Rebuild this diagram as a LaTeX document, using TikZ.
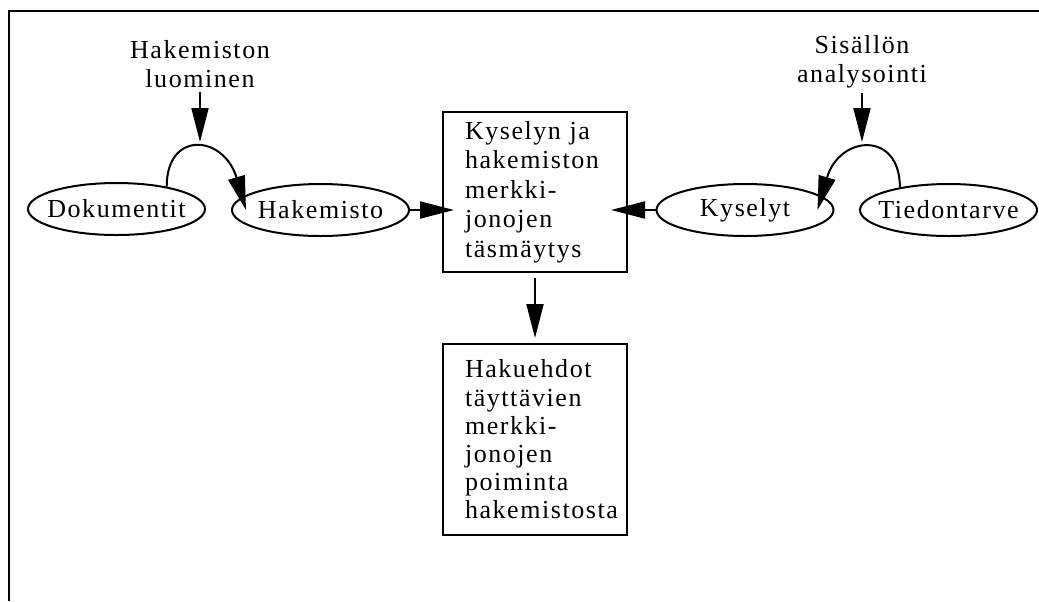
\documentclass[tikz,border=0pt]{standalone}
\usepackage{fontspec}
\setmainfont[LetterSpace=6]{Liberation Serif}
\usetikzlibrary{arrows.meta,shapes,calc,positioning}
\tikzset{
	pil/.style={-{Triangle[length=17pt,width=8.5pt]},line width=1pt},
	soikio/.style={ellipse,draw,line width=1pt,minimum width=88.5pt,minimum height=26pt,inner sep=0pt,label={center:#1}},
	laatikko/.style={draw,line width=1pt,minimum width=92pt,text width=70pt,inner xsep=11pt,align=left,
		execute at begin node={\hyphenpenalty=10000\relax}},
	otsikko/.style={align=center,inner sep=2pt},
}
\begin{document}
\begin{tikzpicture}[x=0.5pt,y=-0.5pt,font=\fontsize{13pt}{14.7pt}\selectfont]
	\useasboundingbox (0,0) rectangle (1039,601);
	\draw [line width=1.1pt] (1039,11) -- (9,11) -- (9,601);
	\node [soikio=Dokumentit] (dok) at (116.5,209){};
	\node [soikio=Hakemisto] (hak) at (320.5,210){};
	\node [laatikko,minimum height=80pt] (vert) at (535,192){Kyselyn ja\\hakemiston\\merkki-\\jonojen\\täsmäytys};
	\node [laatikko,minimum height=95.5pt,below=35pt of vert,font=\fontsize{13pt}{14.1pt}\selectfont] (poim){Hakuehdot\\täyttävien\\merkki-\\jonojen\\poiminta\\hakemistosta};
	\node [soikio=Kyselyt] (kys) at (745,210){};
	\node [soikio=Tiedontarve] (tied) at (948.5,210){};
	\node [otsikko] (luo) at (200,64){Hakemiston\\luominen};
	\node [otsikko] (sis) at (862,62){Sisällön\\analysointi};
	\coordinate (luoKarki) at (200,142);
	\coordinate (sisKarki) at (862,142);
	\draw [pil] (luo.south) -- (luoKarki);
	\draw [pil] (sis.south) -- (sisKarki);
	\draw [pil] (dok.24) .. controls +(0,-57) and +(-22,-75) .. ($(hak.west)+(15,0)$);
	\draw [pil] (tied.155) .. controls +(0,-57) and +(22,-75) .. ($(kys.east)+(-17,0)$);
	\draw [pil,shorten >=-6pt] (hak.east) -- (hak.east -| vert.west);
	\draw [pil,shorten >=-8.5pt] (kys.west) -- (kys.west -| vert.east);
	\draw [pil,shorten <=2.5pt,shorten >=2.5pt] (vert) -- (poim);
\end{tikzpicture}
\end{document}
